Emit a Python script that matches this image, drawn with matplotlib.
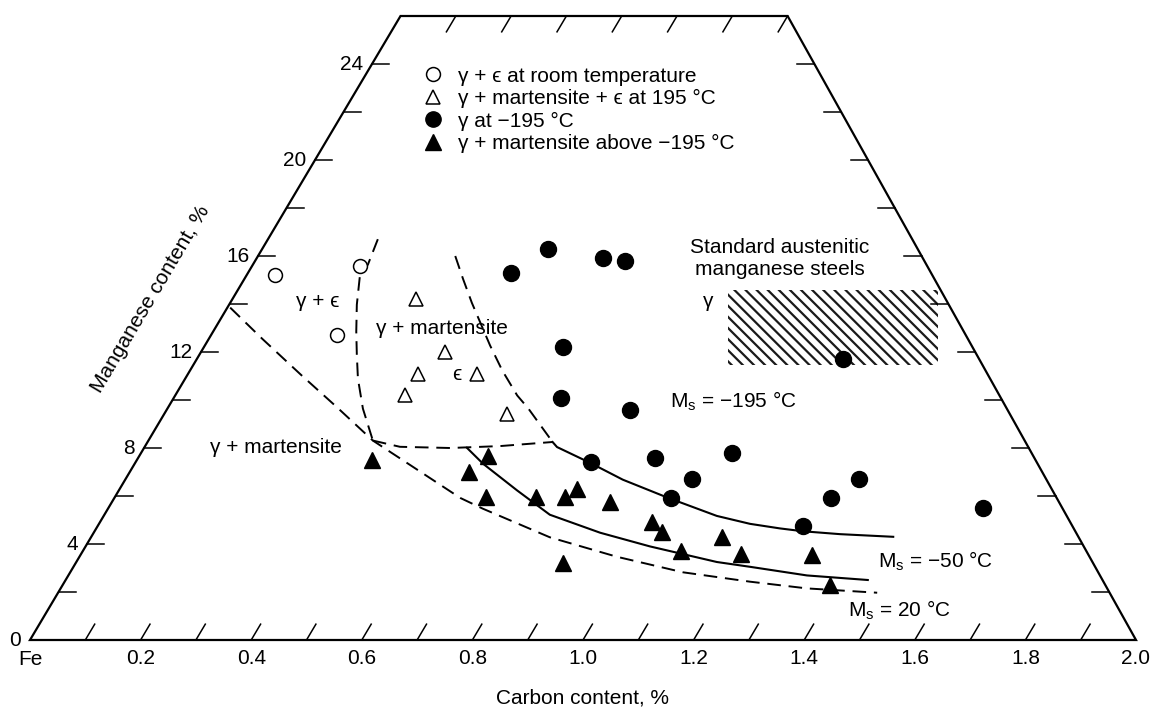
import numpy as np
import matplotlib
matplotlib.use("Agg")
import matplotlib.pyplot as plt
from matplotlib.lines import Line2D
from matplotlib.patches import Polygon, Rectangle

plt.rcParams["font.family"] = ["Liberation Sans", "DejaVu Sans"]
plt.rcParams["mathtext.fontset"] = "custom"
plt.rcParams["mathtext.rm"] = "Liberation Sans"
plt.rcParams["hatch.linewidth"] = 1.6

FS = 15

# diagram frame (carbon %, manganese %)
C_MAX = 2.0
MN_TOP = 26.0
TOP_LEFT_C = 0.67
TOP_RIGHT_C = 1.37
C_TICKS = np.round(np.arange(0.1, 2.0, 0.1), 2)
C_LABELS = [0.2, 0.4, 0.6, 0.8, 1.0, 1.2, 1.4, 1.6, 1.8, 2.0]
MN_TICKS = np.arange(2, 25, 2)
MN_LABELS = [0, 4, 8, 12, 16, 20, 24]

# measured alloys
room_eps_c = [0.443, 0.556, 0.597]
room_eps_mn = [15.2, 12.7, 15.6]
mart_eps_c = [0.698, 0.750, 0.702, 0.678, 0.809, 0.862]
mart_eps_mn = [14.2, 12.0, 11.1, 10.2, 11.1, 9.4]
gamma_c = [0.869, 0.936, 1.036, 1.076, 0.963, 0.960, 1.085, 1.014, 1.130,
           1.269, 1.197, 1.160, 1.499, 1.448, 1.398, 1.724, 1.470]
gamma_mn = [15.3, 16.3, 15.9, 15.8, 12.2, 10.1, 9.6, 7.4, 7.6,
            7.8, 6.7, 5.9, 6.7, 5.9, 4.75, 5.5, 11.7]
mart_c = [0.618, 0.794, 0.828, 0.825, 0.915, 0.967, 0.990, 1.049, 1.124,
          1.143, 1.177, 1.251, 1.286, 0.963, 1.415, 1.447]
mart_mn = [7.5, 7.0, 7.65, 5.95, 5.95, 5.95, 6.3, 5.75, 4.9,
           4.5, 3.7, 4.3, 3.6, 3.2, 3.55, 2.3]

# boundary curves
ms20_c = [0.362, 0.420, 0.490, 0.555, 0.620, 0.669, 0.778, 0.819, 0.940,
          1.061, 1.181, 1.302, 1.405, 1.532]
ms20_mn = [13.85, 12.55, 11.05, 9.70, 8.31, 7.57, 5.92, 5.47, 4.28,
           3.47, 2.82, 2.43, 2.15, 1.97]
eps_c = [0.629, 0.611, 0.597, 0.591, 0.590, 0.591, 0.593, 0.602, 0.620]
eps_mn = [16.7, 15.64, 15.27, 13.97, 12.85, 11.89, 10.89, 9.64, 8.31]
flat_c = [0.620, 0.669, 0.760, 0.850, 0.945]
flat_mn = [8.31, 8.05, 8.00, 8.08, 8.25]
ms195_dash_c = [0.769, 0.783, 0.799, 0.832, 0.854, 0.881, 0.901, 0.945]
ms195_dash_mn = [16.0, 15.05, 14.05, 12.27, 11.23, 10.19, 9.65, 8.25]
ms195_c = [0.945, 0.953, 1.013, 1.072, 1.152, 1.242, 1.302, 1.356, 1.398,
           1.465, 1.561]
ms195_mn = [8.25, 8.04, 7.38, 6.68, 5.94, 5.17, 4.84, 4.65, 4.53, 4.41, 4.30]
ms50_c = [0.790, 0.819, 0.881, 0.940, 1.031, 1.121, 1.242, 1.302, 1.405, 1.515]
ms50_mn = [8.01, 7.35, 6.23, 5.22, 4.47, 3.90, 3.25, 3.05, 2.69, 2.50]

# standard austenitic manganese steels
box_c = (1.262, 1.642)
box_mn = (11.45, 14.58)

LEGEND_LABELS = [
    "\u03b3 + \u03f5 at room temperature",
    "\u03b3 + martensite + \u03f5 at 195 \u00b0C",
    "\u03b3 at \u2212195 \u00b0C",
    "\u03b3 + martensite above \u2212195 \u00b0C",
]


def left_c(mn):
    return mn * TOP_LEFT_C / MN_TOP


def right_c(mn):
    return C_MAX - mn * (C_MAX - TOP_RIGHT_C) / MN_TOP


fig = plt.figure(figsize=(11.53, 7.13), dpi=100)
ax = fig.add_axes([0, 0, 1, 1])
ax.set_xlim(-30 / 553, 1123 / 553)
ax.set_ylim(-73 / 24, 640 / 24)
ax.axis("off")

frame = Polygon([(0, 0), (C_MAX, 0), (TOP_RIGHT_C, MN_TOP),
                 (TOP_LEFT_C, MN_TOP)], closed=True, fill=False,
                edgecolor="black", linewidth=1.6, joinstyle="miter")
ax.add_patch(frame)

# ticks
tick_dc = 0.017
tick_dmn = tick_dc * MN_TOP / TOP_LEFT_C
for c in C_TICKS:
    ax.plot([c, c + tick_dc], [0, tick_dmn], color="black", lw=1.1)
for k in range(1, 8):
    c = TOP_LEFT_C + 0.1 * k
    ax.plot([c, c - tick_dc], [MN_TOP, MN_TOP - tick_dmn], color="black", lw=1.1)
for mn in MN_TICKS:
    ax.plot([left_c(mn), left_c(mn) + 0.031], [mn, mn], color="black", lw=1.1)
    ax.plot([right_c(mn), right_c(mn) - 0.031], [mn, mn], color="black", lw=1.1)

for c in C_LABELS:
    ax.text(c, -0.75, f"{c:.1f}", ha="center", va="center", fontsize=FS)
ax.text(0, -0.8, "Fe", ha="center", va="center", fontsize=FS)
for mn in MN_LABELS:
    ax.text(left_c(mn) - 0.016, mn, str(mn), ha="right", va="center", fontsize=FS)

ax.text(1.0, -2.4, "Carbon content, %", ha="center", va="center", fontsize=FS)
p0 = ax.transData.transform((0, 0))
p1 = ax.transData.transform((TOP_LEFT_C, MN_TOP))
angle = np.degrees(np.arctan2(p1[1] - p0[1], p1[0] - p0[0]))
ax.text(0.217, 14.2, "Manganese content, %", ha="center", va="center",
        rotation=angle, rotation_mode="anchor", fontsize=FS)

# hatched box
ax.add_patch(Rectangle((box_c[0], box_mn[0]), box_c[1] - box_c[0],
                       box_mn[1] - box_mn[0], fill=False, hatch="\\\\\\",
                       edgecolor="#1a1a1a", linewidth=0))

# curves
dash = (0, (7, 4))
ax.plot(ms20_c, ms20_mn, color="black", lw=1.4, linestyle=dash)
ax.plot(eps_c, eps_mn, color="black", lw=1.4, linestyle=dash)
ax.plot(flat_c, flat_mn, color="black", lw=1.4, linestyle=dash)
ax.plot(ms195_dash_c, ms195_dash_mn, color="black", lw=1.4, linestyle=dash)
ax.plot(ms195_c, ms195_mn, color="black", lw=1.5)
ax.plot(ms50_c, ms50_mn, color="black", lw=1.5)

# points
ax.plot(room_eps_c, room_eps_mn, "o", ms=10, mfc="white", mec="black", mew=1.1)
ax.plot(mart_eps_c, mart_eps_mn, "^", ms=10, mfc="white", mec="black", mew=1.1)
ax.plot(gamma_c, gamma_mn, "o", ms=11.5, color="black")
ax.plot(mart_c, mart_mn, "^", ms=11.5, color="black")

# region labels
ax.text(0.521, 14.09, "\u03b3 + \u03f5", ha="center", va="center", fontsize=FS)
ax.text(0.745, 12.96, "\u03b3 + martensite", ha="center", va="center", fontsize=FS)
ax.text(0.772, 11.05, "\u03f5", ha="center", va="center", fontsize=FS)
ax.text(0.445, 8.03, "\u03b3 + martensite", ha="center", va="center", fontsize=FS)
ax.text(1.226, 14.12, "\u03b3", ha="center", va="center", fontsize=FS)
ax.text(1.356, 15.9, "Standard austenitic\nmanganese steels", ha="center",
        va="center", fontsize=FS, linespacing=1.15)
ax.text(1.157, 9.95, "M$_{\\mathregular{s}}$ = \u2212195 \u00b0C", ha="left",
        va="center", fontsize=FS)
ax.text(1.533, 3.3, "M$_{\\mathregular{s}}$ = \u221250 \u00b0C", ha="left",
        va="center", fontsize=FS)
ax.text(1.479, 1.25, "M$_{\\mathregular{s}}$ = 20 \u00b0C", ha="left",
        va="center", fontsize=FS)

handles = [
    Line2D([], [], ls="none", marker="o", ms=10, mfc="white", mec="black", mew=1.1),
    Line2D([], [], ls="none", marker="^", ms=10, mfc="white", mec="black", mew=1.1),
    Line2D([], [], ls="none", marker="o", ms=11, color="black"),
    Line2D([], [], ls="none", marker="^", ms=11, color="black"),
]
ax.legend(handles, LEGEND_LABELS, loc="upper left",
          bbox_to_anchor=(422.6 / 1153, 1 - 66.5 / 713), frameon=False,
          fontsize=FS, handlelength=1.0, handletextpad=0.7,
          labelspacing=0.17, borderpad=0, borderaxespad=0)

fig.savefig("out.png", dpi=100)
